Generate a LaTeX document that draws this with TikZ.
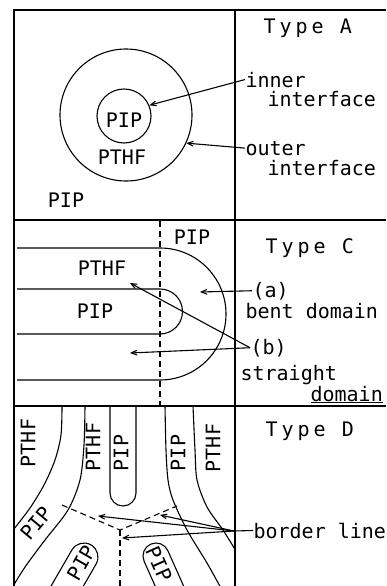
\documentclass[tikz,border=0pt]{standalone}
\usepackage{fontspec}
\usepackage{tikz}
\usetikzlibrary{arrows, calc}
\newfontfamily\lettering{DejaVu Sans Mono}
\newcommand{\spaced}[1]{{\addfontfeature{LetterSpace=20}#1}}

\begin{document}
\begin{tikzpicture}[>=angle 45, x=1pt, y=-1pt, line width=1.1pt,
    every node/.style={inner sep=0pt, font=\lettering\fontsize{20}{24}\selectfont},
    lbl/.style={anchor=base west},
    border/.style={dash pattern=on 6pt off 4pt}]
	\useasboundingbox (0,0) rectangle (386,586);
	% frame
	\draw (14,586) -- (14,10) -- (386,10);
	\draw (235,10) -- (235,586);
	\draw (14,220) -- (386,220);
	\draw (14,406) -- (386,406);

	% Type A
	\node[draw, circle, minimum size=132pt] (outerc) at (126,115) {};
	\node[draw, circle, minimum size=54pt]  (innerc) at (124,116) {};
	\node (pipa)   at (124,120) {PIP};
	\node (pthfa)  at (122,157) {PTHF};
	\node (pipout) at (66,200)  {PIP};
	\node[lbl] (typea) at (263,34)  {\spaced{Type A}};
	\node[lbl] (inn)   at (245,87)  {inner};
	\node[lbl] (inn2)  at (267,106) {interface};
	\node[lbl] (out)   at (245,155) {outer};
	\node[lbl] (out2)  at (267,175) {interface};
	\draw[->] (inn.west) -- (innerc.23);
	\draw[->] (out.west) -- (outerc.-25);

	% Type C
	\draw[border] (160,221) -- (160,405);
	\draw (17,248) -- (160,248) arc[start angle=-90, end angle=90, radius=66] -- (17,380);
	\draw (17,289) -- (160,289) arc[start angle=-90, end angle=90, radius=22.5] -- (17,334);
	\node (pipc1)  at (192,237) {PIP};
	\node (pthfc)  at (102,268) {PTHF};
	\node (pipc2)  at (95,311)  {PIP};
	\node[lbl] (typec)    at (265,253) {\spaced{Type C}};
	\node[lbl] (alb)      at (252,297) {(a)};
	\node[lbl] (bent)     at (245,318) {bent domain};
	\node[lbl] (blb)      at (250,354) {(b)};
	\node[lbl] (straight) at (240,380) {straight};
	\node[lbl] (domain)   at (310,401) {\underline{domain}};
	\coordinate (atip)  at (200,292);
	\coordinate (btip1) at (130,283);
	\coordinate (btip2) at (130,353);
	\draw[->] (alb.west) -- (atip);
	\draw[->] (blb.west) -- (btip1);
	\draw[->] (blb.west) -- (btip2);

	% Type D
	\begin{scope}
		\clip (14,406) rectangle (235,586);
		\draw plot[smooth] coordinates {(62,406) (61,435) (55,460) (44,485) (30,508) (14,529)};
		\draw plot[smooth] coordinates {(85,406) (84,445) (80,480) (68,510) (45,540) (25,567) (12,588)};
		\draw (110,406) -- (110,493) arc[start angle=180, end angle=0, radius=13] -- (136,406);
		\draw plot[smooth] coordinates {(165,406) (166,450) (168,480) (173,500) (187,530) (207,563) (222,590)};
		\draw plot[smooth] coordinates {(193,406) (195,450) (197,480) (207,507) (223,530) (236,551)};
		\coordinate (lf) at (84,557);
		\coordinate (rf) at (156,556);
		\draw ($(lf)+(-150:14)+(120:46)$) -- ($(lf)+(-150:14)$)
			arc[start angle=-150, end angle=30, radius=14] -- ++(120:40);
		\draw ($(rf)+(156:13)+(66:40)$) -- ($(rf)+(156:13)$)
			arc[start angle=156, end angle=336, radius=13] -- ++(66:45);
		\coordinate (jn) at (120,530);
		\coordinate (e1) at (62,505);
		\coordinate (e2) at (177,506);
		\coordinate (e3) at (120,590);
		\draw[border] (e1) -- (jn) -- (e2);
		\draw[border] (jn) -- (e3);
	\end{scope}
	\node[rotate=90]  (pthfd1) at (28,443)  {PTHF};
	\node[rotate=90]  (pthfd2) at (93,447)  {PTHF};
	\node[rotate=90]  (pipd1)  at (121,453) {PIP};
	\node[rotate=90]  (pipd2)  at (178,453) {PIP};
	\node[rotate=90]  (pthfd3) at (213,448) {PTHF};
	\node[rotate=50]  (pipd3)  at (36,523)  {PIP};
	\node[rotate=60]  (pipd4)  at (81,563)  {PIP};
	\node[rotate=-66] (pipd5)  at (159,564) {PIP};
	\node[lbl] (typed) at (265,436) {\spaced{Type D}};
	\node[lbl] (bl)    at (253,538) {border line};
	\coordinate (bjoin) at (234,531);
	\coordinate (t1) at (98,516);
	\coordinate (t2) at (160,515);
	\coordinate (t3) at (122,538);
	\draw (bl.west) -- (bjoin);
	\draw[->] (bjoin) -- (t1);
	\draw[->] (bjoin) -- (t2);
	\draw[->] (bjoin) -- (t3);
\end{tikzpicture}
\end{document}
